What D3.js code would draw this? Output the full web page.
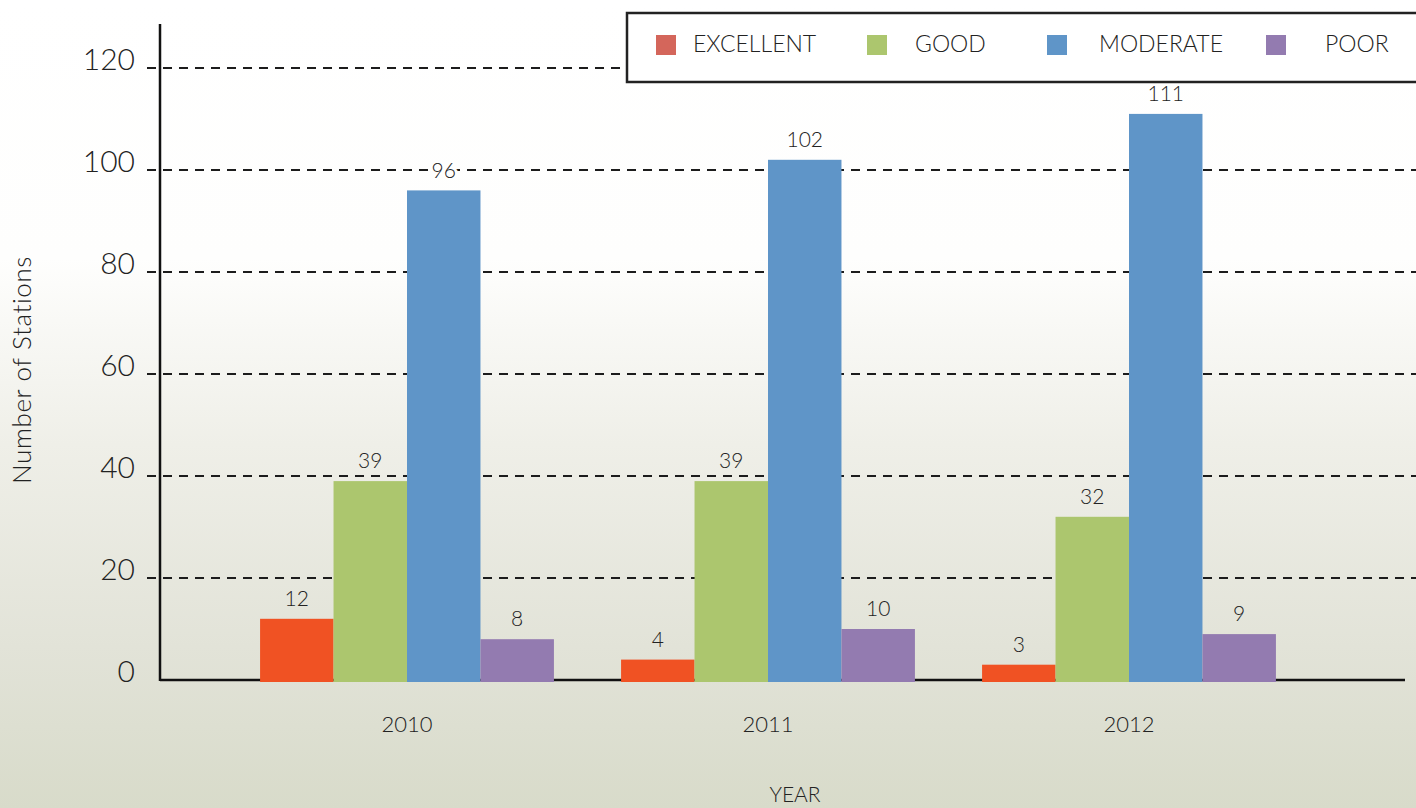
<!DOCTYPE html>
<html>
<head>
<meta charset="utf-8">
<script src="https://cdn.jsdelivr.net/npm/d3@7/dist/d3.min.js"></script>
<style>
  html, body { margin: 0; padding: 0; }
  body { width: 1416px; height: 808px; overflow: hidden; }
  svg text { font-family: "Lato", "Open Sans", sans-serif; fill: #222; }
</style>
</head>
<body>
<svg id="chart" width="1416" height="808"></svg>
<script>
// Monitoring stations by water-quality class, per year
const years = ["2010", "2011", "2012"];
const classes = ["EXCELLENT", "GOOD", "MODERATE", "POOR"];
const excellent = [12, 4, 3];
const good = [39, 39, 32];
const moderate = [96, 102, 111];
const poor = [8, 10, 9];
const yTicks = [0, 20, 40, 60, 80, 100, 120];

const barColors = ["#f05223", "#acc66e", "#5f95c8", "#937bb0"];
const swatchColors = ["#d4665b", "#acc66e", "#5f95c8", "#937bb0"];

const series = [excellent, good, moderate, poor];
const rows = years.map((yr, i) => ({
  year: yr,
  values: classes.map((c, k) => ({ cls: c, value: series[k][i], k }))
}));

const svg = d3.select("#chart");

// Background wash: white at the top fading to a pale sage at the bottom.
// Defined in page coordinates so it can also serve as a knock-out halo.
const defs = svg.append("defs");
const grad = defs.append("linearGradient")
  .attr("id", "bg").attr("gradientUnits", "userSpaceOnUse")
  .attr("x1", 0).attr("y1", 0).attr("x2", 0).attr("y2", 808);
grad.append("stop").attr("offset", "0").attr("stop-color", "#ffffff");
grad.append("stop").attr("offset", "0.32").attr("stop-color", "#fefefd");
grad.append("stop").attr("offset", "0.55").attr("stop-color", "#efefe8");
grad.append("stop").attr("offset", "0.8").attr("stop-color", "#e2e3d8");
grad.append("stop").attr("offset", "1").attr("stop-color", "#d8dbca");
svg.append("rect").attr("width", 1416).attr("height", 808).attr("fill", "url(#bg)");

const axisX = 160, baseY = 680;

const y = d3.scaleLinear().domain([0, 120]).range([baseY, 68]);
const x0 = d3.scaleBand().domain(years).range([226.5, 1309.5])
  .paddingInner(0.186).paddingOuter(0.093);
const x1 = d3.scaleBand().domain(classes).range([0, x0.bandwidth()]);

// Dashed gridlines
svg.append("g").selectAll("line")
  .data(yTicks.filter(t => t > 0))
  .join("line")
  .attr("x1", 147).attr("x2", 1416)
  .attr("y1", d => y(d)).attr("y2", d => y(d))
  .attr("stroke", "#1c1c1c").attr("stroke-width", 2)
  .attr("stroke-dasharray", "9,7");

// Tick labels
svg.append("g").selectAll("text")
  .data(yTicks)
  .join("text")
  .attr("x", 135).attr("y", d => y(d) - 5)
  .attr("text-anchor", "end").attr("dominant-baseline", "middle")
  .style("font-size", "30px").style("font-weight", 300)
  .text(d => d);

// Axis lines
svg.append("line").attr("x1", axisX).attr("x2", axisX).attr("y1", 24).attr("y2", baseY + 1)
  .attr("stroke", "#111").attr("stroke-width", 2.5);
svg.append("line").attr("x1", axisX).attr("x2", 1405).attr("y1", baseY).attr("y2", baseY)
  .attr("stroke", "#111").attr("stroke-width", 2.5);

// Bars
const groups = svg.append("g").selectAll("g")
  .data(rows).join("g")
  .attr("transform", d => `translate(${x0(d.year)},0)`);

groups.selectAll("rect")
  .data(d => d.values).join("rect")
  .attr("x", d => x1(d.cls))
  .attr("width", x1.bandwidth())
  .attr("y", d => y(d.value))
  .attr("height", d => y(0) - y(d.value) + 2)
  .attr("fill", d => barColors[d.k]);

// Value labels, with a background-coloured halo so gridlines do not cross them
groups.selectAll("text")
  .data(d => d.values).join("text")
  .attr("x", d => x1(d.cls) + x1.bandwidth() / 2)
  .attr("y", d => y(d.value) - 18)
  .attr("text-anchor", "middle").attr("dominant-baseline", "middle")
  .style("font-size", "21px").style("font-weight", 300)
  .style("stroke", "url(#bg)").style("stroke-width", 6)
  .style("paint-order", "stroke")
  .text(d => d.value);

// Year labels
svg.append("g").selectAll("text")
  .data(years).join("text")
  .attr("x", d => x0(d) + x0.bandwidth() / 2)
  .attr("y", 727)
  .attr("text-anchor", "middle").attr("dominant-baseline", "middle")
  .style("font-size", "22px").style("font-weight", 300)
  .text(d => d);

// Axis titles
svg.append("text")
  .attr("x", 795).attr("y", 797)
  .attr("text-anchor", "middle").attr("dominant-baseline", "middle")
  .style("font-size", "21px").style("font-weight", 300)
  .text("YEAR");
svg.append("text")
  .attr("transform", "translate(25,370) rotate(-90)")
  .attr("text-anchor", "middle").attr("dominant-baseline", "middle")
  .style("font-size", "26px").style("font-weight", 300)
  .style("letter-spacing", "0.6px")
  .text("Number of Stations");

// Legend
const legend = svg.append("g");
legend.append("rect")
  .attr("x", 627).attr("y", 13).attr("width", 800).attr("height", 69)
  .attr("fill", "#ffffff").attr("stroke", "#222").attr("stroke-width", 2.5);
const swatchX = [656, 867, 1047, 1266];
const labelX = [693, 915, 1099, 1325];
classes.forEach((c, k) => {
  legend.append("rect")
    .attr("x", swatchX[k]).attr("y", 35).attr("width", 20).attr("height", 20)
    .attr("fill", swatchColors[k]);
  legend.append("text")
    .attr("x", labelX[k]).attr("y", 46)
    .attr("dominant-baseline", "middle")
    .style("font-size", "23px").style("font-weight", 300)
    .text(c);
});
</script>
</body>
</html>
